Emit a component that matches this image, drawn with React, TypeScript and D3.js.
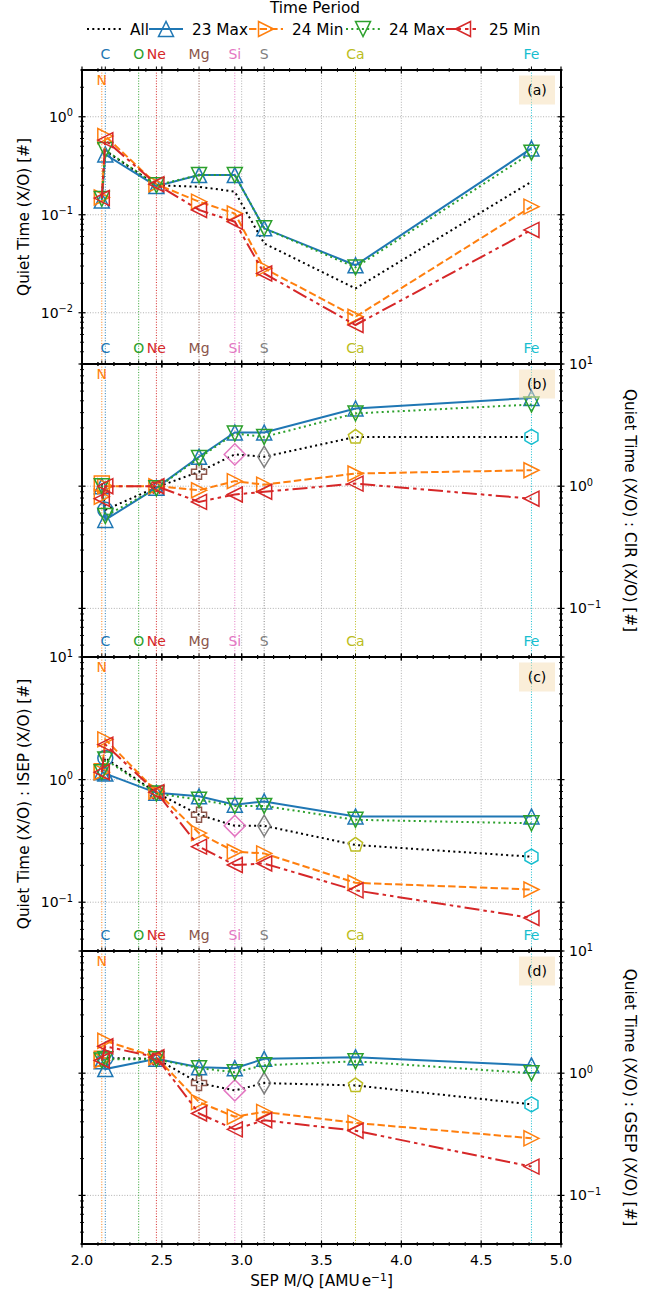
import React from 'react';
import * as d3 from 'd3';

// ---- Elements (vertical reference lines + labels) ----
const ELEMENT_NAMES = ['C', 'N', 'O', 'Ne', 'Mg', 'Si', 'S', 'Ca', 'Fe'];
const ELEMENT_MQ = [2.146, 2.124, 2.355, 2.466, 2.733, 2.957, 3.141, 3.713, 4.815];
const ELEMENT_COLORS = ['#1f77b4', '#ff7f0e', '#2ca02c', '#d62728', '#8c564b', '#e377c2', '#7f7f7f', '#bcbd22', '#17becf'];

// ---- Elements that carry ratio values, ordered by M/Q ----
const SERIES_ELEMENTS = ['N', 'C', 'Ne', 'Mg', 'Si', 'S', 'Ca', 'Fe'];
const ALL_MARKERS = ['s', 'o', 'X', 'P', 'D', 'd', 'p', 'h'];

// ---- Time periods ----
const PERIODS = ['All', '23 Max', '24 Min', '24 Max', '25 Min'];
const PERIOD_COLORS = ['#000000', '#1f77b4', '#ff7f0e', '#2ca02c', '#d62728'];
const PERIOD_DASH = ['2,3.3', '', '7.4,3.2', '2,3.3', '15,4,3.5,4,3.5,4'];
const PERIOD_MARKERS = ['', '^', '>', 'v', '<'];

// ---- (a) Quiet time X/O ----
const QT_ALL = [0.145, 0.45, 0.2, 0.193, 0.172, 0.051, 0.0177, 0.217];
const QT_23MAX = [0.14, 0.413, 0.196, 0.254, 0.254, 0.0727, 0.0305, 0.475];
const QT_24MIN = [0.15, 0.635, 0.205, 0.136, 0.103, 0.0284, 0.0091, 0.121];
const QT_24MAX = [0.145, 0.457, 0.2, 0.254, 0.254, 0.0727, 0.029, 0.43];
const QT_25MIN = [0.148, 0.578, 0.205, 0.112, 0.085, 0.0252, 0.0075, 0.07];

// ---- (b) Quiet time X/O : CIR X/O ----
const CIR_ALL = [1.05, 0.64, 0.98, 1.31, 1.82, 1.74, 2.53, 2.53];
const CIR_23MAX = [1.0, 0.53, 0.97, 1.74, 2.75, 2.75, 4.32, 5.28];
const CIR_24MIN = [0.82, 1.0, 1.0, 0.927, 1.1, 1.03, 1.27, 1.35];
const CIR_24MAX = [1.0, 0.57, 0.96, 1.7, 2.7, 2.53, 3.94, 4.66];
const CIR_25MIN = [0.79, 1.0, 1.0, 0.744, 0.855, 0.9, 1.05, 0.79];

// ---- (c) Quiet time X/O : ISEP X/O ----
const ISEP_ALL = [1.17, 1.5, 0.78, 0.517, 0.42, 0.42, 0.293, 0.235];
const ISEP_23MAX = [1.15, 1.12, 0.78, 0.73, 0.624, 0.664, 0.5, 0.5];
const ISEP_24MIN = [1.15, 2.13, 0.8, 0.366, 0.258, 0.25, 0.144, 0.127];
const ISEP_24MAX = [1.15, 1.46, 0.77, 0.686, 0.61, 0.61, 0.47, 0.44];
const ISEP_25MIN = [1.15, 1.93, 0.79, 0.284, 0.201, 0.207, 0.125, 0.0744];

// ---- (d) Quiet time X/O : GSEP X/O ----
const GSEP_ALL = [1.31, 1.33, 1.31, 0.83, 0.723, 0.83, 0.794, 0.556];
const GSEP_23MAX = [1.25, 1.08, 1.31, 1.12, 1.1, 1.31, 1.35, 1.16];
const GSEP_24MIN = [1.27, 1.84, 1.35, 0.58, 0.44, 0.482, 0.392, 0.293];
const GSEP_24MAX = [1.27, 1.3, 1.3, 1.1, 1.02, 1.16, 1.25, 1.0];
const GSEP_25MIN = [1.27, 1.66, 1.35, 0.468, 0.347, 0.412, 0.338, 0.172];

const X_DOMAIN = [2, 5];
const X_TICKS = [2.0, 2.5, 3.0, 3.5, 4.0, 4.5, 5.0];

const PANELS = [
  { tag: '(a)', domain: [0.003, 3], side: 'left', label: 'Quiet Time (X/O) [#]', allMarkers: false,
    series: [QT_ALL, QT_23MAX, QT_24MIN, QT_24MAX, QT_25MIN] },
  { tag: '(b)', domain: [0.04, 10], side: 'right', label: 'Quiet Time (X/O) : CIR (X/O) [#]', allMarkers: true,
    series: [CIR_ALL, CIR_23MAX, CIR_24MIN, CIR_24MAX, CIR_25MIN] },
  { tag: '(c)', domain: [0.04, 10], side: 'left', label: 'Quiet Time (X/O) : ISEP (X/O) [#]', allMarkers: true,
    series: [ISEP_ALL, ISEP_23MAX, ISEP_24MIN, ISEP_24MAX, ISEP_25MIN] },
  { tag: '(d)', domain: [0.04, 10], side: 'right', label: 'Quiet Time (X/O) : GSEP (X/O) [#]', allMarkers: true,
    series: [GSEP_ALL, GSEP_23MAX, GSEP_24MIN, GSEP_24MAX, GSEP_25MIN] },
];

const W = 671;
const H = 1296;
const LEFT = 82;
const RIGHT = 561;
const TOP = 70;
const PANEL_H = 293.5;
const MS = 15;
const FONT = 'DejaVu Sans, Verdana, sans-serif';

function polygon(n: number, r: number): string {
  const pts = d3.range(n).map((i) => {
    const a = (2 * Math.PI * i) / n + Math.PI / 2;
    return [r * Math.cos(a), -r * Math.sin(a)];
  });
  return 'M' + pts.map((p) => p.join(',')).join('L') + 'Z';
}

function markerPath(m: string, s: number): string {
  const h = s / 2;
  switch (m) {
    case '^': return `M0,${-h}L${-h},${h}L${h},${h}Z`;
    case 'v': return `M0,${h}L${-h},${-h}L${h},${-h}Z`;
    case '>': return `M${h},0L${-h},${-h}L${-h},${h}Z`;
    case '<': return `M${-h},0L${h},${-h}L${h},${h}Z`;
    case 's': return `M${-h},${-h}H${h}V${h}H${-h}Z`;
    case 'o': return `M${h},0A${h},${h} 0 1,1 ${-h},0A${h},${h} 0 1,1 ${h},0Z`;
    case 'D': { const r = s * 0.7071; return `M0,${-r}L${r},0L0,${r}L${-r},0Z`; }
    case 'd': { const r = s * 0.7071; const w = r * 0.6; return `M0,${-r}L${w},0L0,${r}L${-w},0Z`; }
    case 'p': return polygon(5, h);
    case 'h': return polygon(6, h);
    case 'P': {
      const a = s / 6, b = s / 2;
      const v = [[-a, -b], [a, -b], [a, -a], [b, -a], [b, a], [a, a], [a, b], [-a, b], [-a, a], [-b, a], [-b, -a], [-a, -a]];
      return 'M' + v.map((p) => p.join(',')).join('L') + 'Z';
    }
    case 'X': {
      const a = s / 6, b = s / 2;
      const v = [[-a, -b], [a, -b], [a, -a], [b, -a], [b, a], [a, a], [a, b], [-a, b], [-a, a], [-b, a], [-b, -a], [-a, -a]];
      const c = Math.SQRT1_2;
      return 'M' + v.map(([x, y]) => [(x - y) * c * 0.85, (x + y) * c * 0.85].join(',')).join('L') + 'Z';
    }
    default: return '';
  }
}

function Pow10({ x, y, exp, anchor }: { x: number; y: number; exp: number; anchor: string }) {
  return (
    <text x={x} y={y} fontSize={14} textAnchor={anchor} fontFamily={FONT} fill="#000">
      10<tspan dy={-5.5} fontSize={9.8}>{exp < 0 ? '\u2212' + Math.abs(exp) : String(exp)}</tspan>
    </text>
  );
}

function Panel({ panel, index, x }: { panel: any; index: number; x: d3.ScaleLinear<number, number> }) {
  const top = Math.round(TOP + index * PANEL_H);
  const bottom = Math.round(TOP + (index + 1) * PANEL_H);
  const y = d3.scaleLog().domain(panel.domain).range([bottom, top]);
  const [lo, hi] = panel.domain;
  const eLo = Math.floor(Math.log10(lo));
  const eHi = Math.ceil(Math.log10(hi));
  const majors: number[] = [];
  const minors: number[] = [];
  for (let e = eLo; e <= eHi; e++) {
    for (let k = 1; k <= 9; k++) {
      const v = k * Math.pow(10, e);
      if (v < lo * 0.9999 || v > hi * 1.0001) continue;
      if (k === 1) majors.push(v); else minors.push(v);
    }
  }
  const xMinor = d3.range(20, 51).map((i) => i / 10).filter((v) => !X_TICKS.some((t) => Math.abs(t - v) < 1e-9));
  const mqIndex = (name: string) => ELEMENT_NAMES.indexOf(name);
  const xs = SERIES_ELEMENTS.map((n) => ELEMENT_MQ[mqIndex(n)]);

  const line = d3.line<number>().x((_, i) => x(xs[i])).y((v) => y(v));
  const isLastPanel = index === PANELS.length - 1;
  const axisX = panel.side === 'left' ? LEFT : RIGHT;
  const mid = (top + bottom) / 2;

  return (
    <g>
      {/* grid */}
      {X_TICKS.map((t) => (
        <line key={'gx' + t} x1={x(t)} x2={x(t)} y1={top} y2={bottom} stroke="#b0b0b0" strokeWidth={1} strokeDasharray="1,1.65" />
      ))}
      {majors.map((v) => (
        <line key={'gy' + v} x1={LEFT} x2={RIGHT} y1={y(v)} y2={y(v)} stroke="#b0b0b0" strokeWidth={1} strokeDasharray="1,1.65" />
      ))}
      {/* element reference lines */}
      {ELEMENT_NAMES.map((n, i) => (
        <line key={'el' + n} x1={x(ELEMENT_MQ[i])} x2={x(ELEMENT_MQ[i])} y1={top} y2={bottom}
          stroke={ELEMENT_COLORS[i]} strokeWidth={1} strokeDasharray="1,1.65" />
      ))}
      {/* series */}
      {panel.series.map((vals: number[], si: number) => (
        <g key={'s' + si}>
          <path d={line(vals) || ''} fill="none" stroke={PERIOD_COLORS[si]} strokeWidth={2}
            strokeDasharray={PERIOD_DASH[si] || undefined} />
          {si === 0
            ? (panel.allMarkers ? vals.map((v, i) => {
                const ci = mqIndex(SERIES_ELEMENTS[i]);
                return (
                  <path key={i} d={markerPath(ALL_MARKERS[i], MS)} transform={`translate(${x(xs[i])},${y(v)})`}
                    fill="none" stroke={ELEMENT_COLORS[ci]} strokeWidth={1.5} />
                );
              }) : null)
            : vals.map((v, i) => (
                <path key={i} d={markerPath(PERIOD_MARKERS[si], MS)} transform={`translate(${x(xs[i])},${y(v)})`}
                  fill="none" stroke={PERIOD_COLORS[si]} strokeWidth={1.5} />
              ))}
        </g>
      ))}
      {/* frame */}
      <rect x={LEFT} y={top} width={RIGHT - LEFT} height={bottom - top} fill="none" stroke="#000" strokeWidth={2} />
      {/* x ticks top & bottom */}
      {[top, bottom].map((yy) => (
        <g key={'xt' + yy}>
          {X_TICKS.map((t) => (
            <line key={t} x1={x(t)} x2={x(t)} y1={yy - 3.5} y2={yy + 3.5} stroke="#000" strokeWidth={1.2} />
          ))}
          {xMinor.map((t) => (
            <line key={t} x1={x(t)} x2={x(t)} y1={yy - 2} y2={yy + 2} stroke="#000" strokeWidth={0.9} />
          ))}
        </g>
      ))}
      {/* element ticks on top */}
      {ELEMENT_NAMES.map((n, i) => (
        <line key={'et' + n} x1={x(ELEMENT_MQ[i])} x2={x(ELEMENT_MQ[i])} y1={top - 3.5} y2={top} stroke="#000" strokeWidth={1} />
      ))}
      {/* y ticks left & right */}
      {[LEFT, RIGHT].map((xx) => (
        <g key={'yt' + xx}>
          {majors.map((v) => (
            <line key={v} x1={xx - 3.5} x2={xx + 3.5} y1={y(v)} y2={y(v)} stroke="#000" strokeWidth={1.2} />
          ))}
          {minors.map((v) => (
            <line key={v} x1={xx - 2} x2={xx + 2} y1={y(v)} y2={y(v)} stroke="#000" strokeWidth={0.9} />
          ))}
        </g>
      ))}
      {/* y tick labels */}
      {majors.map((v) => (
        <Pow10 key={'yl' + v} x={panel.side === 'left' ? axisX - 9 : axisX + 8} y={y(v) + 5}
          exp={Math.round(Math.log10(v))} anchor={panel.side === 'left' ? 'end' : 'start'} />
      ))}
      {/* y axis label */}
      {panel.side === 'left' ? (
        <text transform={`translate(28.5,${mid}) rotate(-90)`} textAnchor="middle" fontSize={15.3} fontFamily={FONT}>
          {panel.label}
        </text>
      ) : (
        <text transform={`translate(625,${mid}) rotate(90)`} textAnchor="middle" fontSize={15.3} fontFamily={FONT}>
          {panel.label}
        </text>
      )}
      {/* element labels */}
      {ELEMENT_NAMES.map((n, i) => (
        <text key={'en' + n} x={x(ELEMENT_MQ[i])} y={n === 'N' ? top + 15 : top - 11} textAnchor="middle"
          fontSize={14} fontFamily={FONT} fill={ELEMENT_COLORS[i]}>{n}</text>
      ))}
      {/* panel tag */}
      <rect x={519} y={top + 5.5} width={36} height={29} fill="#f5deb3" fillOpacity={0.5} />
      <text x={537} y={top + 25} textAnchor="middle" fontSize={14} fontFamily={FONT}>{panel.tag}</text>
      {/* x tick labels on the bottom panel */}
      {isLastPanel && X_TICKS.map((t) => (
        <text key={'xl' + t} x={x(t)} y={bottom + 21} textAnchor="middle" fontSize={14} fontFamily={FONT}>{t.toFixed(1)}</text>
      ))}
    </g>
  );
}

// legend layout: handle start x for each entry
const LEGEND_X = [87, 149, 249, 346, 446];

function Legend() {
  const rowY = 29;
  return (
    <g>
      <text x={315} y={12.5} textAnchor="middle" fontSize={15.3} fontFamily={FONT}>Time Period</text>
      {PERIODS.map((p, i) => {
        const hx = LEGEND_X[i];
        const hw = 34;
        return (
          <g key={p}>
            <line x1={hx} x2={hx + hw} y1={rowY} y2={rowY} stroke={PERIOD_COLORS[i]} strokeWidth={2}
              strokeDasharray={PERIOD_DASH[i] || undefined} />
            {PERIOD_MARKERS[i] && (
              <path d={markerPath(PERIOD_MARKERS[i], MS)} transform={`translate(${hx + hw / 2},${rowY})`}
                fill="none" stroke={PERIOD_COLORS[i]} strokeWidth={1.5} />
            )}
            <text x={hx + hw + 9} y={rowY + 5.5} fontSize={15.3} fontFamily={FONT}>{p}</text>
          </g>
        );
      })}
    </g>
  );
}

export default function App() {
  const x = d3.scaleLinear().domain(X_DOMAIN).range([LEFT, RIGHT]);
  const bottom = Math.round(TOP + PANELS.length * PANEL_H);
  return (
    <svg width={W} height={H} viewBox={`0 0 ${W} ${H}`} style={{ position: 'absolute', left: 0, top: 0, background: '#fff' }}>
      <rect width={W} height={H} fill="#fff" />
      {PANELS.map((p, i) => (
        <Panel key={p.tag} panel={p} index={i} x={x} />
      ))}
      <Legend />
      <text x={(LEFT + RIGHT) / 2} y={bottom + 42} textAnchor="middle" fontSize={15.3} fontFamily={FONT}>
        SEP M/Q [AMU<tspan dx={2}>e</tspan><tspan dy={-5.5} fontSize={10.7}>{'\u22121'}</tspan><tspan dy={5.5}>]</tspan>
      </text>
    </svg>
  );
}
